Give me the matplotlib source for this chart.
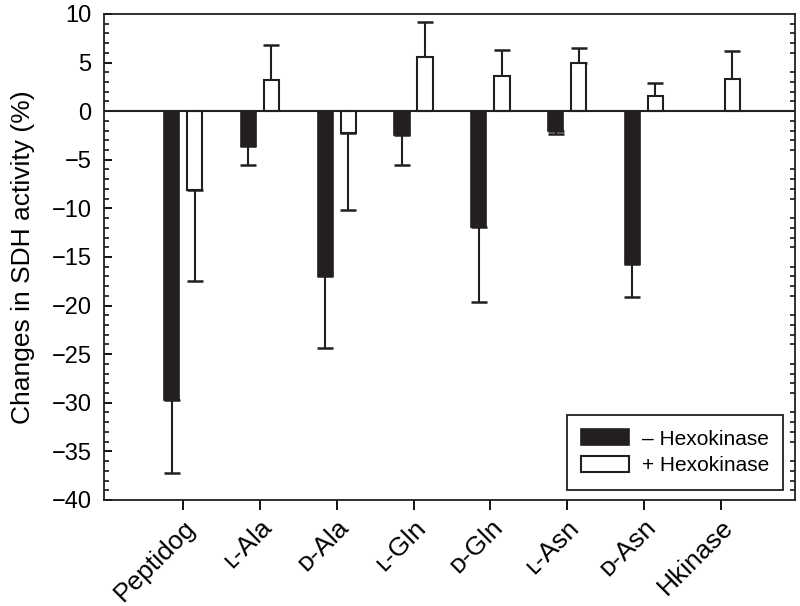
import matplotlib
matplotlib.use("Agg")
import matplotlib.pyplot as plt
import numpy as np
from matplotlib.ticker import MultipleLocator

plt.rcParams['font.family'] = ['Liberation Sans', 'DejaVu Sans']

categories = ["Peptidog", "\u029f-Ala", "\u1d05-Ala", "\u029f-Gln", "\u1d05-Gln", "\u029f-Asn", "\u1d05-Asn", "Hkinase"]
minus_hk = [-29.7, -3.6, -17.0, -2.5, -11.9, -2.0, -15.7, 0.0]
minus_hk_err = [7.5, 1.9, 7.4, 3.0, 7.7, 0.4, 3.4, 0.0]
plus_hk = [-8.1, 3.2, -2.2, 5.6, 3.6, 5.0, 1.6, 3.3]
plus_hk_err = [9.4, 3.6, 8.0, 3.6, 2.7, 1.5, 1.3, 2.9]
legend_labels = ["\u2013 Hexokinase", "+ Hexokinase"]

fig = plt.figure(figsize=(8, 6.06), dpi=100)
ax = fig.add_axes([0.13, 0.175, 0.864, 0.802])

x = np.arange(len(categories))
w = 0.2
off = 0.15
dark = "#231f20"

def one_sided(vals, errs):
    lo = [e if v < 0 else 0 for v, e in zip(vals, errs)]
    hi = [e if v >= 0 else 0 for v, e in zip(vals, errs)]
    return [lo, hi]

ax.bar(x - off, minus_hk, w, color=dark, edgecolor=dark, linewidth=1.2,
       label=legend_labels[0], zorder=3)
ax.bar(x + off, plus_hk, w, color="white", edgecolor=dark, linewidth=1.5,
       label=legend_labels[1], zorder=3)
mask1 = [i for i, e in enumerate(minus_hk_err) if e > 0]
ax.errorbar(x[mask1] - off, np.array(minus_hk)[mask1],
            yerr=np.array(one_sided(minus_hk, minus_hk_err))[:, mask1],
            fmt='none', ecolor=dark, elinewidth=1.5, capsize=6, capthick=1.8, zorder=2)
ax.errorbar(x + off, plus_hk, yerr=one_sided(plus_hk, plus_hk_err),
            fmt='none', ecolor=dark, elinewidth=1.5, capsize=6, capthick=1.8, zorder=2)

ax.axhline(0, color=dark, linewidth=1.5, zorder=4)

ax.set_xlim(-1.03, 7.97)
ax.set_ylim(-40, 10)
ax.yaxis.set_major_locator(MultipleLocator(5))
ax.yaxis.set_minor_locator(MultipleLocator(1))
ax.set_xticks(x)
ax.set_xticklabels(categories, rotation=45, ha='right', rotation_mode='anchor', fontsize=19)
ax.tick_params(axis='y', which='major', direction='in', length=6, width=1.3, labelsize=17,
               right=False, pad=9)
ax.tick_params(axis='y', which='minor', direction='in', length=3.5, width=1.1, right=True)
ax.tick_params(axis='x', which='major', direction='out', length=7, width=1.3, pad=4)
ax.set_yticklabels([f"{int(t)}".replace('-', '\u2212') for t in ax.get_yticks()])
for s in ax.spines.values():
    s.set_linewidth(1.3)
    s.set_color(dark)
ax.set_ylabel("Changes in SDH activity (%)", fontsize=19, labelpad=12)

leg = ax.legend(loc='lower right', fontsize=15, frameon=True, fancybox=False,
                edgecolor=dark, framealpha=1, handlelength=2.3, handleheight=0.8,
                borderpad=0.7, labelspacing=0.35, handletextpad=0.6,
                borderaxespad=0, bbox_to_anchor=(0.983, 0.021))
leg.get_frame().set_linewidth(1.3)

fig.savefig("out.png", dpi=100)
